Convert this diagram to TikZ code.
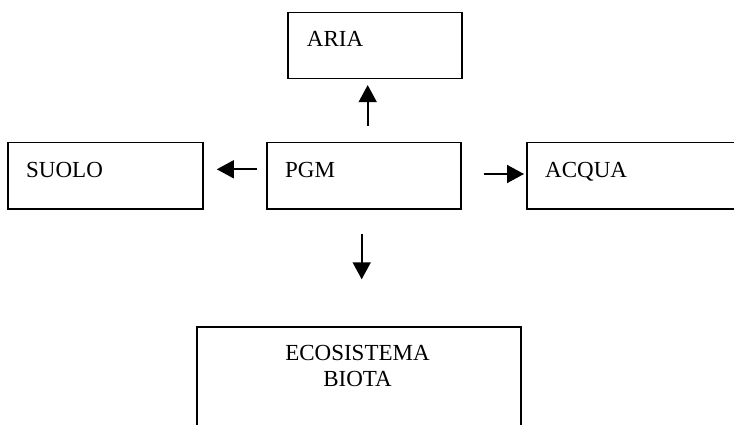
\documentclass[tikz,border=0pt]{standalone}
\usepackage{fontspec}
\setmainfont{Liberation Serif}
\usetikzlibrary{arrows.meta}
\begin{document}
\begin{tikzpicture}[x=1pt,y=-1pt,
  box/.style={draw, line width=1.8pt, inner sep=0pt, anchor=north west},
  lbl/.style={font=\fontsize{23}{26}\selectfont, inner sep=0pt},
  arr/.style={line width=1.6pt, -{Triangle[length=17pt,width=18pt]}}]
\useasboundingbox (0,0) rectangle (734,425);
\clip (0,0) rectangle (734,425);
% boxes
\node[box, minimum width=173.7pt, minimum height=66pt] (aria) at (287.3,11.7) {};
\node[box, minimum width=194.3pt, minimum height=66pt] (pgm) at (265.7,141.7) {};
\node[box, minimum width=195pt, minimum height=66pt] (suolo) at (7.3,141.7) {};
\node[box, minimum width=240pt, minimum height=66pt] (acqua) at (526,141.7) {};
\node[box, minimum width=324pt, minimum height=140pt] (eco) at (196,325.7) {};
% labels
\node[lbl, anchor=base west] (tAria) at (306.7,46.7) {ARIA};
\node[lbl, anchor=base west] (tSuolo) at (26,177.7) {SUOLO};
\node[lbl, anchor=base west] (tPgm) at (285,177.7) {PGM};
\node[lbl, anchor=base west] (tAcqua) at (545,178) {ACQUA};
\node[lbl, anchor=base, align=center] (tEco) at (357.5,386) {ECOSISTEMA\\BIOTA};
% arrow guide coordinates
\coordinate (upx) at (367.7,0);
\coordinate (leftY) at (0,169.3);
\coordinate (rightY) at (0,174);
\coordinate (downx) at (361.7,0);
% arrows
\draw[arr, shorten <=15.7pt, shorten >=5.6pt] (pgm.north -| upx) -- (aria.south -| upx);
\draw[arr, shorten <=9pt, shorten >=12.7pt] (pgm.west |- leftY) -- (suolo.east |- leftY);
\draw[arr, shorten <=21.7pt, shorten >=2pt] (pgm.east |- rightY) -- (acqua.west |- rightY);
\draw[arr, shorten <=24.6pt, shorten >=46.4pt] (pgm.south -| downx) -- (eco.north -| downx);
\end{tikzpicture}
\end{document}
